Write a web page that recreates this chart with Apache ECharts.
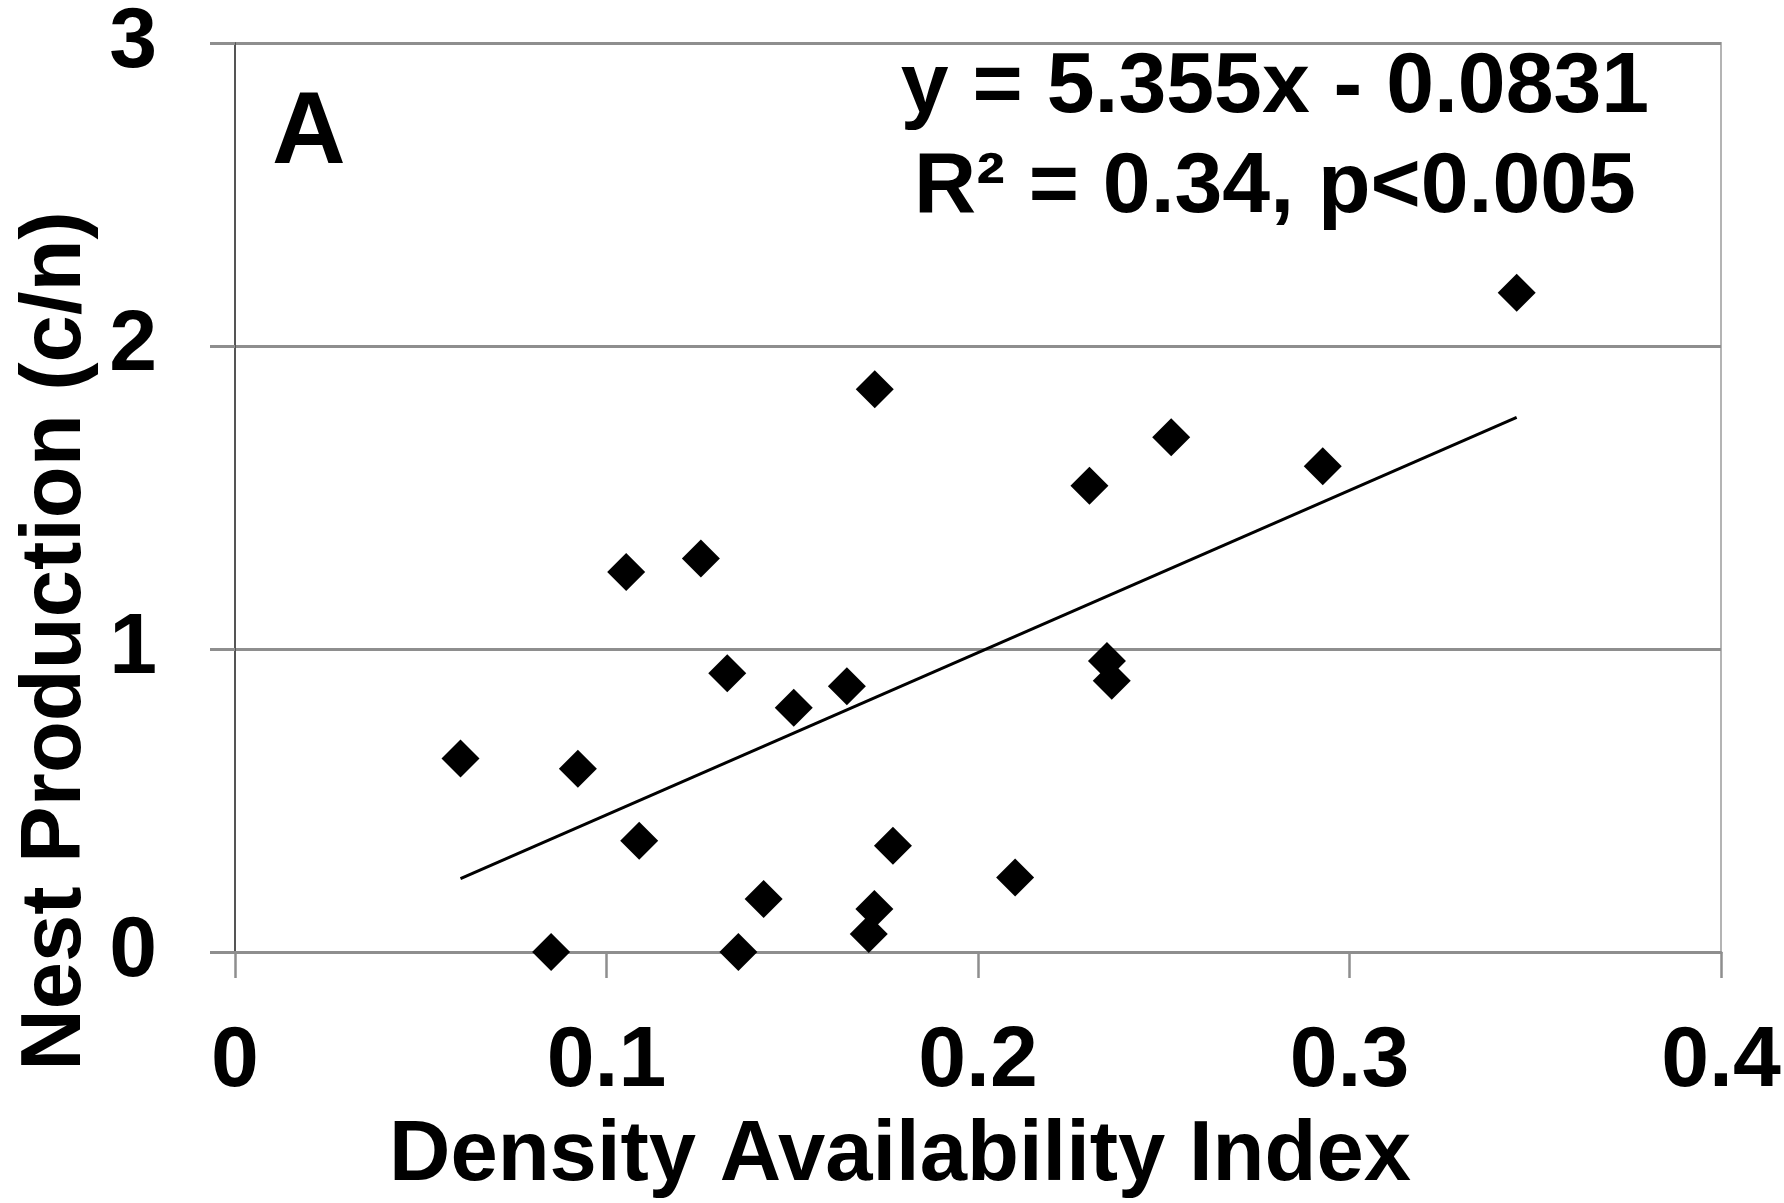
<!DOCTYPE html>
<html>
<head>
<meta charset="utf-8">
<title>Nest Production vs Density Availability Index</title>
<script src="https://cdn.jsdelivr.net/npm/echarts@6/dist/echarts.min.js"></script>
<style>
  html, body { margin: 0; padding: 0; background: #ffffff; }
  #chart { width: 1784px; height: 1203px; }
</style>
</head>
<body>
<div id="chart"></div>
<script>
// Density availability index for each site (x) and nest production in chicks per nest (y)
const densityIndex = [
  0.0607, 0.0851, 0.0923, 0.1053, 0.1088, 0.1254, 0.1325, 0.1355, 0.1423, 0.1504, 0.1647,
  0.1722, 0.1721, 0.1706, 0.1771, 0.2100, 0.2300, 0.2347, 0.2360, 0.2520, 0.2928, 0.3450
];
const nestProduction = [
  0.639, 0.000, 0.605, 1.254, 0.367, 1.299, 0.920, 0.000, 0.175, 0.806, 0.877,
  1.857, 0.142, 0.059, 0.351, 0.246, 1.539, 0.960, 0.895, 1.699, 1.603, 2.176
];

// Least-squares fit reported on the chart
const fitSlope = 5.355;
const fitIntercept = -0.0831;
const fitLines = ['y = 5.355x - 0.0831', 'R\u00B2 = 0.34, p<0.005'];
const panelLetter = 'A';

// Axis ticks and titles
const xTicks = [0, 0.1, 0.2, 0.3, 0.4];
const yTicks = [0, 1, 2, 3];
const xTitle = 'Density Availability Index';
const yTitle = 'Nest Production (c/n)';

const FONT = '"Liberation Sans", Arial, Helvetica, sans-serif';
const GRID_GRAY = '#8e8e8e';

const points = densityIndex.map((x, i) => [x, nestProduction[i]]);
const xMin = Math.min(...densityIndex);
const xMax = Math.max(...densityIndex);
const fitPoints = [xMin, xMax].map(x => [x, fitSlope * x + fitIntercept]);

const chart = echarts.init(document.getElementById('chart'), null, { renderer: 'canvas' });

chart.setOption({
  animation: false,
  backgroundColor: '#ffffff',
  grid: {
    left: 235, top: 43, width: 1486, height: 909,
    containLabel: false,
    outerBoundsMode: 'none',
    show: true,
    backgroundColor: '#ffffff',
    borderColor: '#b4b4b4',
    borderWidth: 2
  },
  xAxis: {
    type: 'value',
    min: xTicks[0],
    max: xTicks[xTicks.length - 1],
    interval: xTicks[1] - xTicks[0],
    axisLine: { show: true, onZero: false, lineStyle: { color: GRID_GRAY, width: 3 } },
    axisTick: { show: true, inside: false, length: 26, lineStyle: { color: GRID_GRAY, width: 2.5 } },
    splitLine: { show: false },
    axisLabel: {
      margin: 67,
      color: '#000000',
      fontFamily: FONT,
      fontWeight: 'bold',
      fontSize: 86,
      showMinLabel: true,
      showMaxLabel: true,
      formatter: v => String(Math.round(v * 10) / 10)
    }
  },
  yAxis: {
    type: 'value',
    min: yTicks[0],
    max: yTicks[yTicks.length - 1],
    interval: yTicks[1] - yTicks[0],
    axisLine: { show: true, onZero: false, lineStyle: { color: '#555555', width: 2 } },
    axisTick: { show: true, inside: false, length: 25, lineStyle: { color: GRID_GRAY, width: 3 } },
    splitLine: { show: true, lineStyle: { color: GRID_GRAY, width: 3 } },
    axisLabel: {
      margin: 78,
      color: '#000000',
      fontFamily: FONT,
      fontWeight: 'bold',
      fontSize: 86,
      showMinLabel: true,
      showMaxLabel: true
    }
  },
  series: [
    {
      name: 'Sites',
      type: 'scatter',
      data: points,
      symbol: 'diamond',
      symbolSize: 38,
      itemStyle: { color: '#000000', opacity: 1 },
      z: 3
    },
    {
      name: 'Linear fit',
      type: 'line',
      data: fitPoints,
      showSymbol: false,
      symbol: 'none',
      lineStyle: { color: '#000000', width: 3 },
      z: 4
    }
  ],
  graphic: [
    {
      type: 'text',
      x: 57, y: 641,
      rotation: Math.PI / 2,
      style: {
        text: yTitle,
        font: 'bold 85px ' + FONT,
        fill: '#000000',
        align: 'center',
        verticalAlign: 'middle'
      }
    },
    {
      type: 'text',
      x: 900, y: 1157,
      style: {
        text: xTitle,
        font: 'bold 85px ' + FONT,
        fill: '#000000',
        align: 'center',
        verticalAlign: 'middle'
      }
    },
    {
      type: 'text',
      x: 1275, y: 88,
      z: 10,
      style: {
        text: fitLines[0],
        font: 'bold 86px ' + FONT,
        fill: '#000000',
        align: 'center',
        verticalAlign: 'middle'
      }
    },
    {
      type: 'text',
      x: 1275, y: 188,
      z: 10,
      style: {
        text: fitLines[1],
        font: 'bold 86px ' + FONT,
        fill: '#000000',
        align: 'center',
        verticalAlign: 'middle'
      }
    },
    {
      type: 'text',
      x: 272, y: 135,
      z: 10,
      style: {
        text: panelLetter,
        font: 'bold 102px ' + FONT,
        fill: '#000000',
        align: 'left',
        verticalAlign: 'middle'
      }
    }
  ]
});
</script>
</body>
</html>
